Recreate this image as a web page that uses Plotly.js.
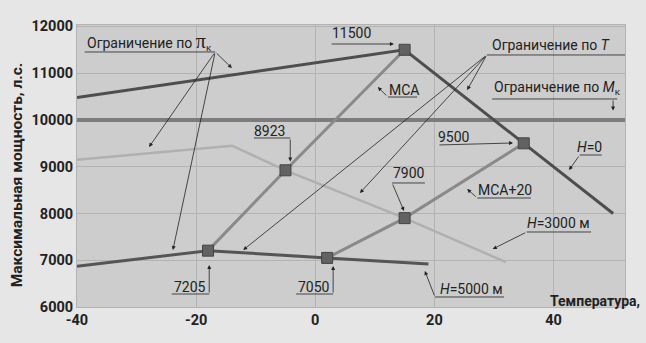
<!DOCTYPE html>
<html>
<head>
<meta charset="utf-8">
<script src="https://cdn.plot.ly/plotly-3.0.1.min.js"></script>
<style>html,body{margin:0;padding:0;background:#e6e6e6;} #chart{width:646px;height:343px;}</style>
</head>
<body>
<div id="chart"></div>
<script>
// ---- data (temperature °C, max power hp) ----
const tempH0 = [-40, 15, 35, 50];
const powH0 = [10480, 11500, 9500, 8000];
const tempMk = [-40, 52];
const powMk = [10000, 10000];
const tempH3000 = [-40, -14, -5, 15, 32];
const powH3000 = [9150, 9450, 8923, 7900, 6960];
const tempH5000 = [-40, -18, 2, 19];
const powH5000 = [6870, 7205, 7050, 6920];
const tempMCA = [-18, -5, 15];
const powMCA = [7205, 8923, 11500];
const tempMCA20 = [2, 15, 35];
const powMCA20 = [7050, 7900, 9500];
const keyTemp = [15, 35, -5, 15, -18, 2];
const keyPow = [11500, 9500, 8923, 7900, 7205, 7050];
const xTicks = [-40, -20, 0, 20, 40];
const yTicks = [6000, 7000, 8000, 9000, 10000, 11000, 12000];

const FONT = 'Roboto, "Liberation Sans", sans-serif';

function line(x, y, color, width) {
  return {x: x, y: y, type: 'scatter', mode: 'lines', line: {color: color, width: width}, hoverinfo: 'skip', showlegend: false};
}
const traces = [
  line(tempMk, powMk, '#7c7c7c', 4),
  line(tempH3000, powH3000, '#b0b0b0', 2.5),
  line(tempMCA, powMCA, '#8a8a8a', 3),
  line(tempMCA20, powMCA20, '#8a8a8a', 3),
  line(tempH0, powH0, '#4e4e4e', 3),
  line(tempH5000, powH5000, '#555555', 3),
  {x: keyTemp, y: keyPow, type: 'scatter', mode: 'markers',
   marker: {symbol: 'square', size: 11, color: '#626262', line: {color: '#444', width: 1}},
   hoverinfo: 'skip', showlegend: false}
];

const AC = '#222';
function arrow(hx, hy, tx, ty) {
  return {x: hx, y: hy, ax: tx, ay: ty, xref: 'x', yref: 'y', axref: 'x', ayref: 'y',
    text: '', showarrow: true, arrowhead: 2, arrowsize: 1, arrowwidth: 0.8, arrowcolor: AC, standoff: 0};
}
function label(text, x, y, xanchor, size) {
  return {x: x, y: y, xref: 'x', yref: 'y', text: text, showarrow: false,
    xanchor: xanchor || 'center', yanchor: 'middle', font: {family: FONT, size: size || 14, color: '#222'}};
}
function seg(x0, y0, x1, y1) {
  return {type: 'line', xref: 'x', yref: 'y', x0: x0, y0: y0, x1: x1, y1: y1, line: {color: AC, width: 0.8}};
}

const annotations = [
  // Ограничение по πк
  label('Ограничение по <span style="font-family:serif;font-size:20px">π</span><sub>к</sub>', -38.7, 11680, 'left'),
  arrow(-14.0, 11111, -16.8, 11453),
  arrow(-27.9, 9421, -16.8, 11453),
  arrow(-23.9, 7219, -16.8, 11453),
  // Ограничение по T
  label('Ограничение по <i>T</i>', 29.3, 11610, 'left'),
  arrow(25.5, 10640, 28.8, 11389),
  arrow(7.5, 8438, 28.8, 11389),
  arrow(-12.1, 7219, 28.8, 11389),
  // Ограничение по Mк
  label('Ограничение по <i>M</i><sub>к</sub>', 29.7, 10690, 'left'),
  arrow(50.0, 10200, 50.0, 10448),
  // МСА
  label('МСА', 14.9, 10650),
  arrow(10.5, 10704, 12.2, 10490),
  // МСА+20
  label('МСА+20', 31.9, 8510),
  arrow(25.5, 8523, 27.2, 8331),
  // H=0
  label('<i>H</i>=0', 46.1, 9430),
  arrow(42.6, 8929, 44.4, 9250),
  // H=3000 м
  label('<i>H</i>=3000 м', 40.9, 7805),
  arrow(29.8, 7240, 35.5, 7604),
  // H=5000 м
  label('<i>H</i>=5000 м', 26.3, 6395),
  arrow(18.4, 6770, 20.1, 6214),
  // value labels
  label(String(keyPow[0]), 6.0, 11865),
  arrow(13.2, 11624, 2.5, 11624),
  label(String(keyPow[1]), 23.3, 9640),
  arrow(33.2, 9507, 20.6, 9464),
  label(String(keyPow[2]), -7.6, 9770),
  arrow(-4.2, 9110, -4.2, 9614),
  label(String(keyPow[3]), 15.7, 8870),
  arrow(14.9, 8053, 12.9, 8652),
  label(String(keyPow[4]), -21.0, 6435),
  arrow(-17.8, 6898, -17.8, 6278),
  label(String(keyPow[5]), -0.2, 6435),
  arrow(3.0, 6877, 3.0, 6278),
  // axis titles
  {xref: 'paper', yref: 'paper', x: -0.108, y: 0.47, textangle: -90, showarrow: false,
   text: '<b>Максимальная мощность, л.с.</b>', xanchor: 'center', yanchor: 'middle',
   font: {family: FONT, size: 15.5, color: '#222'}},
  {xref: 'paper', yref: 'paper', x: 0.859, y: 0.02, showarrow: false,
   text: '<b>Температура,</b>', xanchor: 'left', yanchor: 'middle',
   font: {family: FONT, size: 14, color: '#222'}}
];

const shapes = [
  seg(-38.7, 11453, -16.8, 11453),
  seg(28.8, 11389, 52, 11389),
  seg(29.7, 10448, 50.7, 10448),
  seg(12.2, 10490, 17.1, 10490),
  seg(27.2, 8331, 36.2, 8331),
  seg(44.4, 9250, 48.1, 9250),
  seg(35.5, 7604, 46.3, 7604),
  seg(20.1, 6214, 31.7, 6214),
  seg(-10.3, 9614, -4.2, 9614),
  seg(12.9, 8652, 18.4, 8652),
  seg(-24.1, 6278, -17.8, 6278),
  seg(-3.2, 6278, 3.0, 6278)
];

const layout = {
  width: 646, height: 343,
  margin: {l: 77, r: 21, t: 25, b: 36},
  paper_bgcolor: '#e6e6e6',
  plot_bgcolor: '#cdcdcd',
  showlegend: false,
  font: {family: FONT, color: '#222'},
  xaxis: {range: [-40, 52], tickvals: xTicks, ticktext: xTicks.map(String),
    showgrid: true, gridcolor: '#b3b3b3', gridwidth: 1, zeroline: false,
    showline: true, linecolor: '#b3b3b3', mirror: true, ticks: '',
    tickfont: {family: FONT, size: 14.5, color: '#222', weight: 'bold'}},
  yaxis: {range: [6000, 12030], tickvals: yTicks, ticktext: yTicks.map(String),
    showgrid: true, gridcolor: '#b3b3b3', gridwidth: 1, zeroline: false,
    showline: true, linecolor: '#b3b3b3', mirror: true, ticks: '',
    tickfont: {family: FONT, size: 14.5, color: '#222', weight: 'bold'}},
  annotations: annotations,
  shapes: shapes
};

Plotly.newPlot('chart', traces, layout, {staticPlot: true, displayModeBar: false});
</script>
</body>
</html>
